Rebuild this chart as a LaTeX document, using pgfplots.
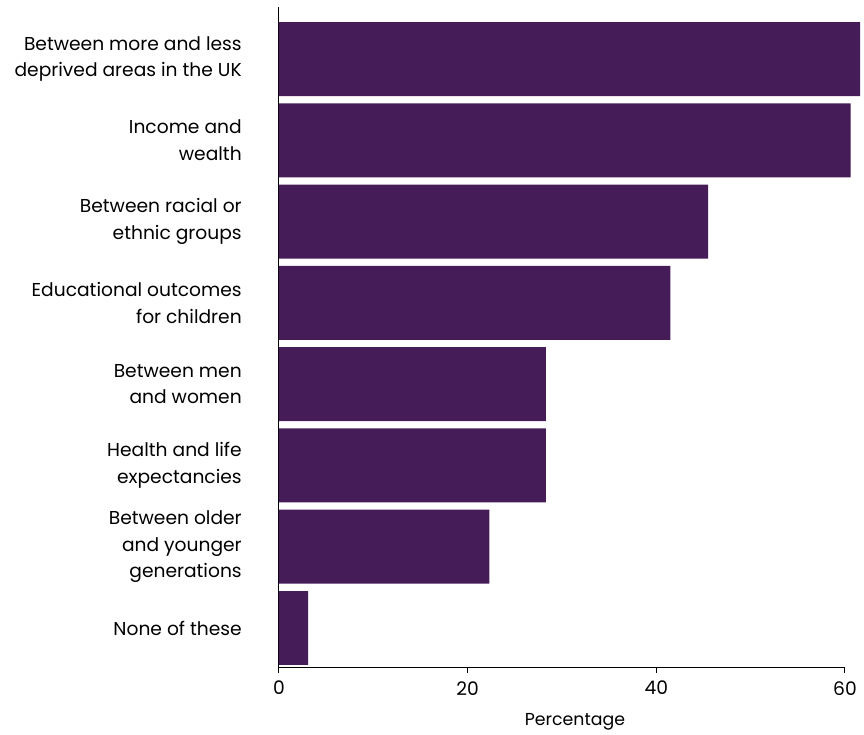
\documentclass[border=0pt]{standalone}
\usepackage{pgfplots}
\pgfplotsset{compat=1.18}
\usepackage{fontspec}
\setmainfont{Poppins}
\definecolor{barpurple}{HTML}{451C58}
\begin{document}
\begin{tikzpicture}
\begin{axis}[
  scale only axis,
  width=424.5pt, height=495pt,
  xbar, bar width=0.91, bar shift=0pt,
  y dir=reverse,
  ymin=0.36, ymax=8.48,
  xmin=0, xmax=60,
  clip=false,
  axis x line*=bottom, axis y line*=left,
  axis line style={line width=0.75pt},
  xtick={0,20,40,60},
  ytick={1,2,3,4,5,6,7,8},
  yticklabels={{Between more and less\\deprived areas in the UK},{Income and\\wealth},{Between racial or\\ethnic groups},{Educational outcomes\\for children},{Between men\\and women},{Health and life\\expectancies},{Between older\\and younger\\generations},{None of these}},
  y tick style={draw=none},
  x tick style={line width=0.75pt, black},
  tick align=outside,
  major tick length=4.5pt,
  yticklabel style={align=right, inner sep=0pt, xshift=-23.25pt, font=\fontsize{14}{20}\selectfont},
  xticklabel style={inner sep=0pt, yshift=-6pt, font=\fontsize{14}{17}\selectfont},
  /pgf/number format/assume math mode=true,
  xlabel={Percentage},
  xlabel style={at={(axis description cs:0.5,0)}, anchor=center, xshift=9.75pt, yshift=-41.25pt, font=\fontsize{13}{15}\selectfont},
]
\addplot[fill=barpurple, draw=none] coordinates {
(61.6,1) (60.6,2) (45.5,3) (41.5,4) (28.3,5) (28.3,6) (22.3,7) (3.1,8)
};
\end{axis}
\path[use as bounding box] (-209.25pt,-51pt) rectangle (438.75pt,500.25pt);
\end{tikzpicture}
\end{document}
